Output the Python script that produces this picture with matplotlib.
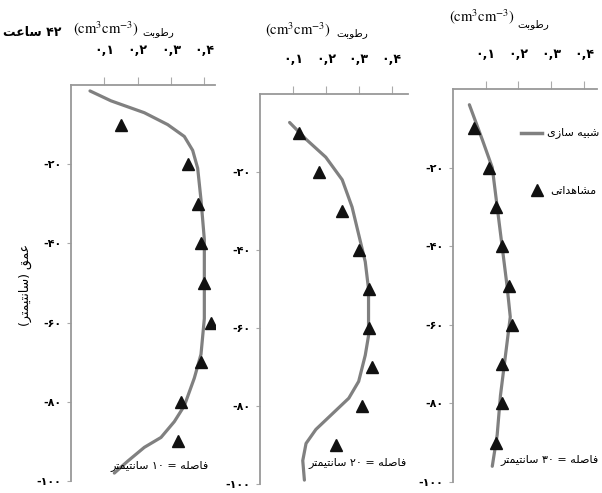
import matplotlib
matplotlib.use('Agg')
import matplotlib.pyplot as plt

plt.rcParams['font.family'] = ['DejaVu Sans']
plt.rcParams['mathtext.fontset'] = 'stix'

# observed soil moisture (triangles), same depths in all three panels
depth_obs = [-10, -20, -30, -40, -50, -60, -70, -80, -90]
obs_10 = [0.15, 0.35, 0.38, 0.39, 0.40, 0.42, 0.39, 0.33, 0.32]
obs_20 = [0.12, 0.18, 0.25, 0.30, 0.33, 0.33, 0.34, 0.31, 0.23]
obs_30 = [0.065, 0.11, 0.13, 0.15, 0.17, 0.18, 0.15, 0.15, 0.13]

# simulated profiles (grey line)
sim_depth_10 = [-1.5, -4, -7, -10, -13, -16.5, -21, -29, -39, -51, -59, -68, -74, -81, -85, -89, -91.5, -95, -98]
sim_10 = [0.057, 0.12, 0.22, 0.29, 0.34, 0.365, 0.38, 0.39, 0.40, 0.40, 0.40, 0.39, 0.37, 0.34, 0.31, 0.27, 0.22, 0.17, 0.13]
sim_depth_20 = [-7.3, -11.6, -16.2, -22, -29, -36, -43, -50, -62, -67, -73.7, -78, -82, -86, -89.6, -94, -99]
sim_20 = [0.09, 0.14, 0.20, 0.25, 0.28, 0.30, 0.32, 0.33, 0.33, 0.32, 0.30, 0.27, 0.22, 0.17, 0.14, 0.13, 0.135]
sim_depth_30 = [-4, -13, -20, -30, -40, -50, -58, -68, -78, -88, -96]
sim_30 = [0.05, 0.09, 0.12, 0.135, 0.15, 0.165, 0.175, 0.16, 0.145, 0.135, 0.12]

xtick_vals = [0.1, 0.2, 0.3, 0.4]
xtick_labels = ['\u06f0,\u06f1', '\u06f0,\u06f2', '\u06f0,\u06f3', '\u06f0,\u06f4']
ytick_vals = [-20, -40, -60, -80, -100]
ytick_labels = ['-\u06f2\u06f0', '-\u06f4\u06f0', '-\u06f6\u06f0', '-\u06f8\u06f0', '-\u06f1\u06f0\u06f0']

# Persian text, shaped by hand (presentation forms, visual left-to-right order)
t_moist = '\ufe96\ufe91\ufeee\ufec3\ufead'
t_title = '\ufe96\ufecb\ufe8e\ufeb3 \u06f4\u06f2'
t_cm = '\ufeae\ufe98\ufee4\ufef4\ufe98\ufee7\ufe8e\ufeb3'
t_depth = '(' + t_cm + ') \ufed6\ufee4\ufecb'
t_sim = '\ufeef\ufeaf\ufe8e\ufeb3 \ufeea\ufef4\ufe92\ufeb7'
t_obs = '\ufef0\ufe97\ufe8d\ufeaa\ufeeb\ufe8e\ufeb8\ufee3'
t_dist = '\ufeea\ufee0\ufebb\ufe8e\ufed3'
dist_labels = [t_cm + ' \u06f1\u06f0 = ' + t_dist,
               t_cm + ' \u06f2\u06f0 = ' + t_dist,
               t_cm + ' \u06f3\u06f0 = ' + t_dist]
unit = r'$\mathrm{(cm^{3}cm^{-3})}$'

W, H = 602, 493
fig = plt.figure(figsize=(W / 100, H / 100), dpi=100)

def px(x0, y0, x1, y1):
    return [x0 / W, 1 - y1 / H, (x1 - x0) / W, (y1 - y0) / H]

panels = [
    (px(71, 85, 215, 481), 0.432, sim_depth_10, sim_10, obs_10),
    (px(260, 94, 408, 484), 0.45, sim_depth_20, sim_20, obs_20),
    (px(453, 89, 597, 482), 0.44, sim_depth_30, sim_30, obs_30),
]

for rect, xmax, sd, sv, ov in panels:
    ax = fig.add_axes(rect)
    ax.plot(sv, sd, color='#808080', lw=2.3, solid_capstyle='round')
    ax.plot(ov, depth_obs, '^', color='#111111', ms=8, mec='#111111')
    ax.set_xlim(0, xmax)
    ax.set_ylim(-100, 0)
    ax.xaxis.tick_top()
    ax.set_xticks(xtick_vals)
    ax.set_xticklabels(xtick_labels, fontsize=9, fontweight='bold')
    ax.set_yticks(ytick_vals)
    ax.set_yticklabels(ytick_labels, fontsize=8, fontweight='bold')
    ax.tick_params(axis='x', length=6, color='#aaaaaa', pad=14)
    ax.tick_params(axis='y', length=3, color='#aaaaaa', pad=4)
    for s in ['bottom', 'right']:
        ax.spines[s].set_visible(False)
    for s in ['top', 'left']:
        ax.spines[s].set_color('#999999')
        ax.spines[s].set_linewidth(1.3)

def ftext(x, y, s, **kw):
    fig.text(x / W, 1 - y / H, s, ha='center', va='center', **kw)

ftext(32, 32, t_title, fontsize=9, fontweight='bold')
ftext(106, 29, unit, fontsize=10.5)
ftext(158, 32, t_moist, fontsize=7.5)
ftext(298, 30, unit, fontsize=10.5)
ftext(352, 33, t_moist, fontsize=7.5)
ftext(482, 17, unit, fontsize=10.5)
ftext(533, 24, t_moist, fontsize=7.5)
ftext(25, 285, t_depth, fontsize=9, rotation=90)

ftext(160, 466, dist_labels[0], fontsize=8)
ftext(358, 463, dist_labels[1], fontsize=8)
ftext(550, 460, dist_labels[2], fontsize=8)

# legend drawn by hand to the right of the last panel
leg = fig.add_axes([0, 0, 1, 1], facecolor='none')
leg.set_xlim(0, W)
leg.set_ylim(H, 0)
leg.axis('off')
leg.plot([521, 542], [133, 133], color='#808080', lw=2.5)
leg.plot([537], [190], '^', color='#111111', ms=8)
leg.text(573, 133, t_sim, ha='center', va='center', fontsize=8)
leg.text(573, 190, t_obs, ha='center', va='center', fontsize=8)

fig.savefig('out.png', dpi=100)
